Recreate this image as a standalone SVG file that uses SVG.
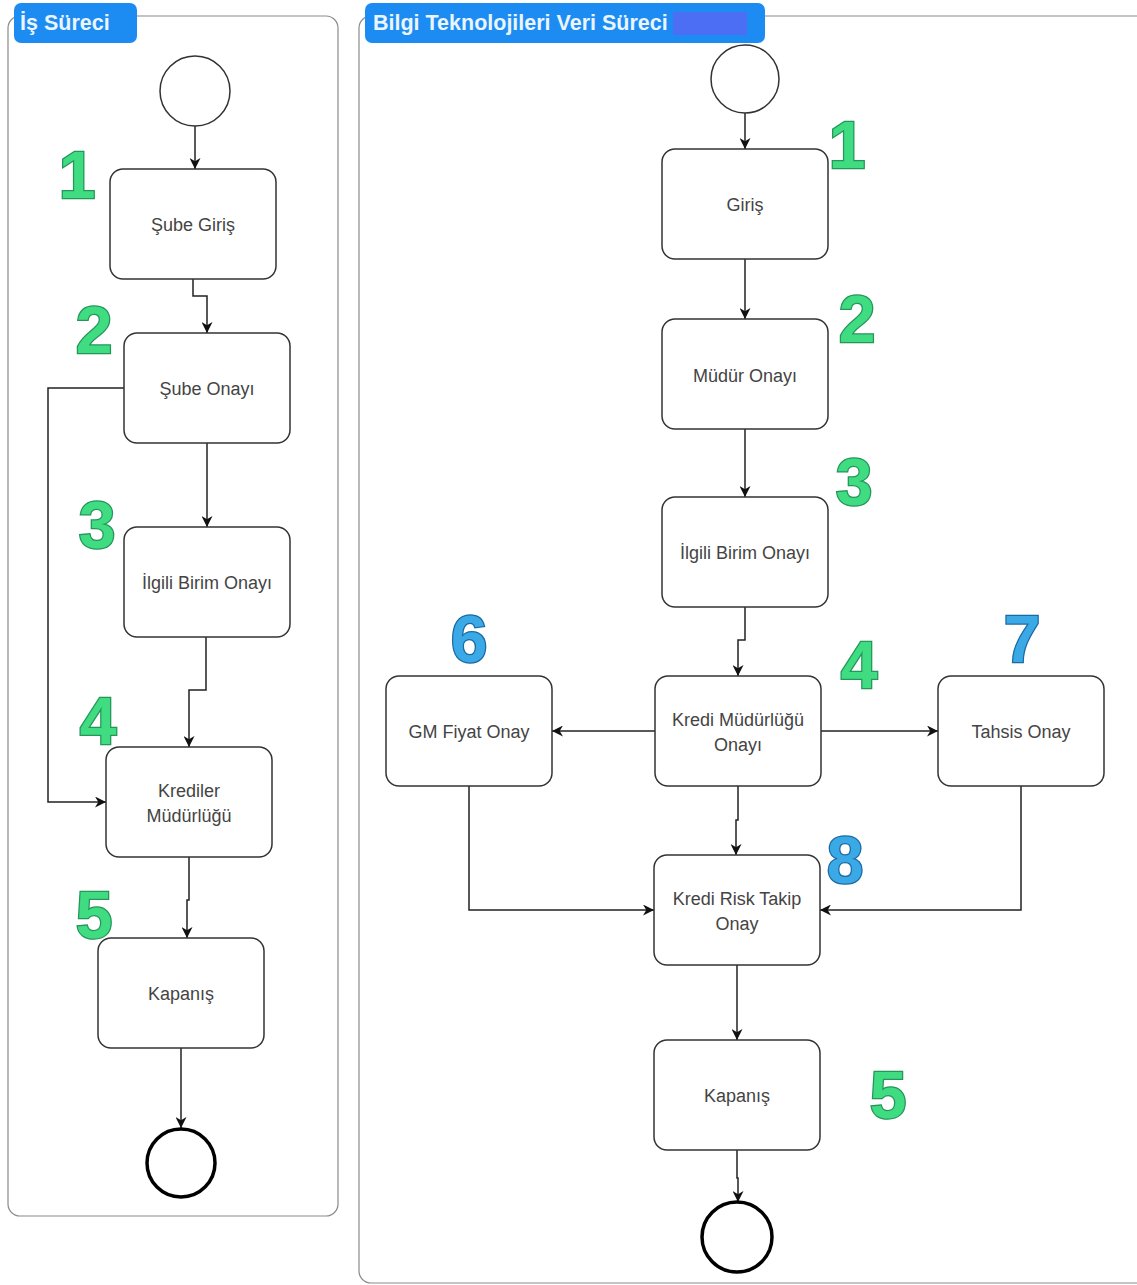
<svg xmlns="http://www.w3.org/2000/svg" width="1137" height="1285" viewBox="0 0 1137 1285">
<style>
.pool{fill:#fff;stroke:#8a8a8a;stroke-width:1.2}
.hdr{fill:#1d8cf2}
.hdrt{font-family:"Liberation Sans",Arial,sans-serif;font-size:21.5px;font-weight:bold;fill:#eaf5ff}
.box{fill:#fff;stroke:#333;stroke-width:1.5}
.lbl{font-family:"Liberation Sans",Arial,sans-serif;font-size:18px;fill:#444;text-anchor:middle}
.ev{fill:#fff;stroke:#333;stroke-width:1.5}
.evEnd{fill:#fff;stroke:#000;stroke-width:3.5}
.e{fill:none;stroke:#222;stroke-width:1.5;marker-end:url(#ah)}
.ng{font-family:"Liberation Sans",Arial,sans-serif;font-weight:bold;font-size:66px;fill:#3fdc82;stroke:#25955a;stroke-width:2.5;text-anchor:middle;paint-order:stroke}
.nb{font-family:"Liberation Sans",Arial,sans-serif;font-weight:bold;font-size:66px;fill:#3ba9e6;stroke:#1a6aa3;stroke-width:2.5;text-anchor:middle;paint-order:stroke}
</style>
<defs>
<marker id="ah" viewBox="0 0 10 10" refX="10" refY="5" markerWidth="11" markerHeight="11" markerUnits="userSpaceOnUse" orient="auto">
<path d="M0,0 L10,5 L0,10 L3,5 Z" fill="#111"/>
</marker>
</defs>
<rect width="1137" height="1285" fill="#fff"/>

<g id="pool-left">
<rect class="pool" x="8" y="16" width="330" height="1200" rx="12"/>
<rect class="hdr" x="14" y="3" width="123" height="40" rx="7"/>
<text class="hdrt" x="20" y="30">İş Süreci</text>
</g>
<g id="pool-right">
<rect class="pool" x="359" y="16" width="790" height="1267" rx="12"/>
<rect class="hdr" x="365" y="3" width="400" height="40" rx="7"/>
<text class="hdrt" x="373" y="30">Bilgi Teknolojileri Veri Süreci</text>
<rect x="673" y="12" width="74" height="23" fill="#4b6ef5"/>
</g>

<g id="connectors">
<path class="e" d="M195,126 V169"/>
<path class="e" d="M193,279 V296 H207 V333"/>
<path class="e" d="M207,443 V527"/>
<path class="e" d="M206,637 V690 H189 V747"/>
<path class="e" d="M124,388 H48 V802 H106"/>
<path class="e" d="M189,857 V900 H187 V938"/>
<path class="e" d="M181,1048 V1128"/>

<path class="e" d="M745,113 V149"/>
<path class="e" d="M745,259 V319"/>
<path class="e" d="M745,429 V497"/>
<path class="e" d="M745,607 V640 H738 V676"/>
<path class="e" d="M655,731 H552"/>
<path class="e" d="M821,731 H938"/>
<path class="e" d="M738,786 V820 H736 V855"/>
<path class="e" d="M469,786 V910 H654"/>
<path class="e" d="M1021,786 V910 H820"/>
<path class="e" d="M737,965 V1040"/>
<path class="e" d="M737,1150 V1178 H738 V1202"/>
</g>

<g id="l-start"><circle class="ev" cx="195" cy="91" r="35"/></g>
<g id="l-sube-giris"><rect class="box" x="110" y="169" width="166" height="110" rx="13"/><text class="lbl" x="193" y="231">Şube Giriş</text></g>
<g id="l-sube-onayi"><rect class="box" x="124" y="333" width="166" height="110" rx="13"/><text class="lbl" x="207" y="395">Şube Onayı</text></g>
<g id="l-ilgili"><rect class="box" x="124" y="527" width="166" height="110" rx="13"/><text class="lbl" x="207" y="589">İlgili Birim Onayı</text></g>
<g id="l-krediler"><rect class="box" x="106" y="747" width="166" height="110" rx="13"/><text class="lbl" x="189" y="797">Krediler</text><text class="lbl" x="189" y="822">Müdürlüğü</text></g>
<g id="l-kapanis"><rect class="box" x="98" y="938" width="166" height="110" rx="13"/><text class="lbl" x="181" y="1000">Kapanış</text></g>
<g id="l-end"><circle class="evEnd" cx="181" cy="1163" r="34"/></g>

<g id="r-start"><circle class="ev" cx="745" cy="79" r="34"/></g>
<g id="r-giris"><rect class="box" x="662" y="149" width="166" height="110" rx="13"/><text class="lbl" x="745" y="211">Giriş</text></g>
<g id="r-mudur"><rect class="box" x="662" y="319" width="166" height="110" rx="13"/><text class="lbl" x="745" y="382">Müdür Onayı</text></g>
<g id="r-ilgili"><rect class="box" x="662" y="497" width="166" height="110" rx="13"/><text class="lbl" x="745" y="559">İlgili Birim Onayı</text></g>
<g id="r-kredi"><rect class="box" x="655" y="676" width="166" height="110" rx="13"/><text class="lbl" x="738" y="726">Kredi Müdürlüğü</text><text class="lbl" x="738" y="751">Onayı</text></g>
<g id="r-gm"><rect class="box" x="386" y="676" width="166" height="110" rx="13"/><text class="lbl" x="469" y="738">GM Fiyat Onay</text></g>
<g id="r-tahsis"><rect class="box" x="938" y="676" width="166" height="110" rx="13"/><text class="lbl" x="1021" y="738">Tahsis Onay</text></g>
<g id="r-risk"><rect class="box" x="654" y="855" width="166" height="110" rx="13"/><text class="lbl" x="737" y="905">Kredi Risk Takip</text><text class="lbl" x="737" y="930">Onay</text></g>
<g id="r-kapanis"><rect class="box" x="654" y="1040" width="166" height="110" rx="13"/><text class="lbl" x="737" y="1102">Kapanış</text></g>
<g id="r-end"><circle class="evEnd" cx="737" cy="1237" r="35"/></g>

<g id="numbers">
<text class="ng" x="77" y="198">1</text>
<text class="ng" x="94" y="353">2</text>
<text class="ng" x="97" y="548">3</text>
<text class="ng" x="98" y="744">4</text>
<text class="ng" x="94" y="938">5</text>
<text class="ng" x="847" y="168">1</text>
<text class="ng" x="857" y="342">2</text>
<text class="ng" x="854" y="505">3</text>
<text class="nb" x="469" y="662">6</text>
<text class="ng" x="859" y="688">4</text>
<text class="nb" x="1022" y="662">7</text>
<text class="nb" x="845" y="883">8</text>
<text class="ng" x="888" y="1118">5</text>
</g>
</svg>
